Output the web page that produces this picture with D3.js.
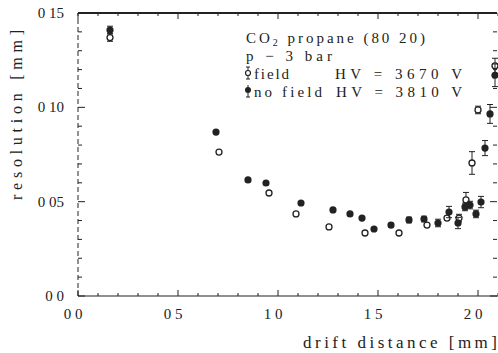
<!DOCTYPE html>
<html><head><meta charset="utf-8">
<script src="https://cdn.jsdelivr.net/npm/d3@7"></script>
<style>body{margin:0;background:#fff}svg{display:block}text{font-family:"Liberation Serif","DejaVu Serif",serif;fill:#222}</style>
</head><body>
<svg id="c" width="498" height="353"></svg>
<script>
// field (open circles)
const fieldX   = [0.16, 0.705, 0.955, 1.09, 1.255, 1.435, 1.605, 1.745, 1.845, 1.905, 1.94, 1.97, 2.0, 2.085];
const fieldY   = [0.137, 0.0763, 0.0546, 0.0435, 0.0366, 0.0334, 0.0334, 0.0376, 0.0413, 0.0413, 0.0509, 0.0705, 0.0986, 0.122];
const fieldErr = [0.002, 0, 0, 0, 0, 0, 0, 0, 0.001, 0.002, 0.004, 0.006, 0.002, 0.004];
// no field (filled circles)
const nofieldX   = [0.16, 0.69, 0.85, 0.94, 1.115, 1.275, 1.36, 1.42, 1.48, 1.565, 1.655, 1.73, 1.80, 1.855, 1.90, 1.935, 1.96, 1.99, 2.015, 2.035, 2.06, 2.085];
const nofieldY   = [0.141, 0.0869, 0.0615, 0.0599, 0.0493, 0.0456, 0.0435, 0.0413, 0.0355, 0.0376, 0.0403, 0.0408, 0.0387, 0.0445, 0.0387, 0.0472, 0.0482, 0.0435, 0.0498, 0.0784, 0.0965, 0.117];
const nofieldErr = [0.002, 0, 0, 0, 0, 0, 0, 0, 0, 0.001, 0.0015, 0.0015, 0.002, 0.003, 0.003, 0.002, 0.002, 0.002, 0.003, 0.004, 0.005, 0.006];
const xTicks = [0, 0.5, 1.0, 1.5, 2.0];
const xTickLabels = ["0 0", "0 5", "1 0", "1 5", "2 0"];
const yTicks = [0, 0.05, 0.10, 0.15];
const yTickLabels = ["0 0", "0 05", "0 10", "0 15"];
const legendLines = ["CO", "p  \u2212  3 bar"];

const svg = d3.select("#c");
const x = d3.scaleLinear().domain([0, 2.1]).range([78, 498]);
const y = d3.scaleLinear().domain([0, 0.15]).range([296, 13]);
const ink = "#222";

// axes lines
svg.append("line").attr("x1",78).attr("x2",498).attr("y1",y(0)).attr("y2",y(0)).attr("stroke",ink).attr("stroke-width",1.2);
svg.append("line").attr("x1",78).attr("x2",497).attr("y1",y(0.15)).attr("y2",y(0.15)).attr("stroke",ink).attr("stroke-width",1.8);
svg.append("line").attr("x1",78).attr("x2",78).attr("y1",y(0)).attr("y2",y(0.15)).attr("stroke",ink).attr("stroke-width",1).attr("stroke-dasharray","5,3");

// x ticks (minor every 0.1)
const xMinor = d3.range(0, 2.11, 0.1);
xMinor.forEach(v => {
  const major = Math.abs(v*2 - Math.round(v*2)) < 1e-6;
  const len = major ? 6 : 3;
  svg.append("line").attr("x1",x(v)).attr("x2",x(v)).attr("y1",y(0)).attr("y2",y(0)-len).attr("stroke",ink);
  svg.append("line").attr("x1",x(v)).attr("x2",x(v)).attr("y1",y(0.15)).attr("y2",y(0.15)+len).attr("stroke",ink);
});
// y ticks
const yMinor = d3.range(0, 0.1501, 0.01);
yMinor.forEach(v => {
  const major = Math.abs(v*20 - Math.round(v*20)) < 1e-6;
  const len = major ? 7 : 4;
  svg.append("line").attr("x1",78).attr("x2",78+len).attr("y1",y(v)).attr("y2",y(v)).attr("stroke",ink);
  svg.append("line").attr("x1",497).attr("x2",497-len).attr("y1",y(v)).attr("y2",y(v)).attr("stroke",ink);
});

// tick labels
xTicks.forEach((v,i) => {
  svg.append("text").attr("x",x(v)-5).attr("y",319).attr("text-anchor","middle").attr("font-size",15).text(xTickLabels[i]);
});
yTicks.forEach((v,i) => {
  svg.append("text").attr("x",64).attr("y",y(v)+5).attr("text-anchor","end").attr("font-size",15).text(yTickLabels[i]);
});

// axis titles
svg.append("text").attr("x",303).attr("y",348).attr("font-size",17).attr("textLength",194).attr("lengthAdjust","spacing").text("drift distance [mm]");
svg.append("text").attr("transform","translate(22,200) rotate(-90)").attr("font-size",16).attr("textLength",170).attr("lengthAdjust","spacing").text("resolution [mm]");

// error bars
function errBars(xs, ys, es, g) {
  xs.forEach((v,i) => {
    if (!es[i]) return;
    const cx = x(v), y1 = y(ys[i]-es[i]), y2 = y(ys[i]+es[i]);
    g.append("line").attr("x1",cx).attr("x2",cx).attr("y1",y1).attr("y2",y2).attr("stroke",ink).attr("stroke-width",1);
    [y1,y2].forEach(yy => g.append("line").attr("x1",cx-3).attr("x2",cx+3).attr("y1",yy).attr("y2",yy).attr("stroke",ink));
  });
}
const gf = svg.append("g"), gn = svg.append("g");
errBars(fieldX, fieldY, fieldErr, gf);
errBars(nofieldX, nofieldY, nofieldErr, gn);
gf.selectAll("circle").data(fieldX).join("circle")
  .attr("cx",d=>x(d)).attr("cy",(d,i)=>y(fieldY[i])).attr("r",3)
  .attr("fill","#fff").attr("stroke",ink).attr("stroke-width",1.3);
gn.selectAll("circle").data(nofieldX).join("circle")
  .attr("cx",d=>x(d)).attr("cy",(d,i)=>y(nofieldY[i])).attr("r",3.6)
  .attr("fill",ink);

// legend
const t1 = svg.append("text").attr("x",246).attr("y",43).attr("font-size",15).attr("textLength",179).attr("lengthAdjust","spacing");
t1.append("tspan").text("CO");
t1.append("tspan").attr("font-size",10).attr("dy",3).text("2");
t1.append("tspan").attr("dy",-3).text(" propane (80 20)");
svg.append("text").attr("x",246).attr("y",61).attr("font-size",15).attr("textLength",86).attr("lengthAdjust","spacing").text(legendLines[1]);
// field symbol
svg.append("line").attr("x1",248).attr("x2",248).attr("y1",67).attr("y2",79).attr("stroke",ink);
svg.append("line").attr("x1",246).attr("x2",250).attr("y1",67).attr("y2",67).attr("stroke",ink);
svg.append("line").attr("x1",246).attr("x2",250).attr("y1",79).attr("y2",79).attr("stroke",ink);
svg.append("circle").attr("cx",248).attr("cy",73).attr("r",2.5).attr("fill","#fff").attr("stroke",ink).attr("stroke-width",1.2);
svg.append("text").attr("x",254).attr("y",79).attr("font-size",15).attr("textLength",35).attr("lengthAdjust","spacing").text("field");
svg.append("text").attr("x",335).attr("y",79).attr("font-size",15).attr("textLength",127).attr("lengthAdjust","spacing").text("HV  =  3670  V");
// no field symbol
svg.append("line").attr("x1",248).attr("x2",248).attr("y1",85).attr("y2",97).attr("stroke",ink);
svg.append("line").attr("x1",246).attr("x2",250).attr("y1",97).attr("y2",97).attr("stroke",ink);
svg.append("circle").attr("cx",248).attr("cy",90).attr("r",3).attr("fill",ink);
svg.append("text").attr("x",254).attr("y",97).attr("font-size",15).attr("textLength",68).attr("lengthAdjust","spacing").text("no field");
svg.append("text").attr("x",336).attr("y",97).attr("font-size",15).attr("textLength",126).attr("lengthAdjust","spacing").text("HV  =  3810  V");
</script>
</body></html>
